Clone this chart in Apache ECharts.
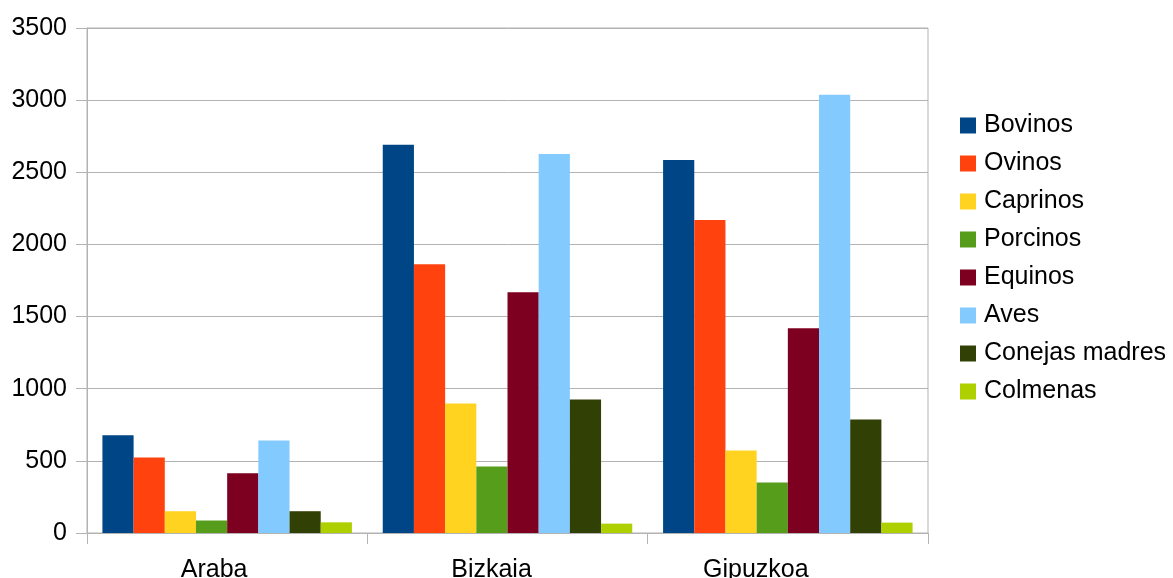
<!DOCTYPE html>
<html>
<head>
<meta charset="utf-8">
<script src="https://cdn.jsdelivr.net/npm/echarts@6/dist/echarts.min.js"></script>
<style>
  html, body { margin: 0; padding: 0; background: #fff; }
  #chart { width: 1173px; height: 578px; }
</style>
</head>
<body>
<div id="chart"></div>
<script>
var provincias = ['Araba', 'Bizkaia', 'Gipuzkoa'];
var yTicks = [0, 500, 1000, 1500, 2000, 2500, 3000, 3500];

var bovinos = [677, 2690, 2586];
var ovinos = [524, 1863, 2169];
var caprinos = [151, 898, 572];
var porcinos = [87, 461, 350];
var equinos = [414, 1669, 1419];
var aves = [641, 2627, 3037];
var conejas = [151, 926, 787];
var colmenas = [74, 65, 72];

var nombres = ['Bovinos', 'Ovinos', 'Caprinos', 'Porcinos', 'Equinos', 'Aves', 'Conejas madres', 'Colmenas'];
var valores = [bovinos, ovinos, caprinos, porcinos, equinos, aves, conejas, colmenas];
var colores = ['#004586', '#ff420e', '#ffd320', '#579d1c', '#7e0021', '#83caff', '#314004', '#aecf00'];

var fuente = 'Liberation Sans';
var gris = '#b3b3b3';

// las etiquetas del original no van centradas en su categoria
var desplazamiento = [26, 32, 64];
var categorias = provincias.map(function (p, i) {
  return { value: p, textStyle: { padding: [0, desplazamiento[i], 0, 0] } };
});

var series = nombres.map(function (n, i) {
  return {
    name: n,
    type: 'bar',
    data: valores[i],
    barGap: '0%',
    barCategoryGap: '11%',
    itemStyle: { color: colores[i] }
  };
});

var chart = echarts.init(document.getElementById('chart'));
chart.setOption({
  animation: false,
  backgroundColor: '#ffffff',
  color: colores,
  grid: {
    left: 87, right: 245, top: 28, bottom: 45,
    outerBoundsMode: 'none',
    show: true, borderColor: gris, borderWidth: 1
  },
  legend: {
    orient: 'vertical',
    left: 955,
    top: 108,
    itemWidth: 16,
    itemHeight: 16,
    itemGap: 13,
    icon: 'rect',
    textStyle: { fontFamily: fuente, fontSize: 25, color: '#000', padding: [0, 0, 0, 3] },
    data: nombres
  },
  xAxis: {
    type: 'category',
    data: categorias,
    axisLine: { lineStyle: { color: gris } },
    axisTick: { show: true, length: 11, lineStyle: { color: gris } },
    axisLabel: { fontFamily: fuente, fontSize: 25, color: '#000', margin: 25 }
  },
  yAxis: {
    type: 'value',
    min: yTicks[0],
    max: yTicks[yTicks.length - 1],
    interval: 500,
    axisLine: { show: true, lineStyle: { color: gris } },
    axisTick: { show: true, length: 11, lineStyle: { color: gris } },
    splitLine: { lineStyle: { color: gris } },
    axisLabel: {
      fontFamily: fuente, fontSize: 25, color: '#000', margin: 20,
      formatter: function (v) { return String(v); }
    }
  },
  series: series
});
</script>
</body>
</html>
